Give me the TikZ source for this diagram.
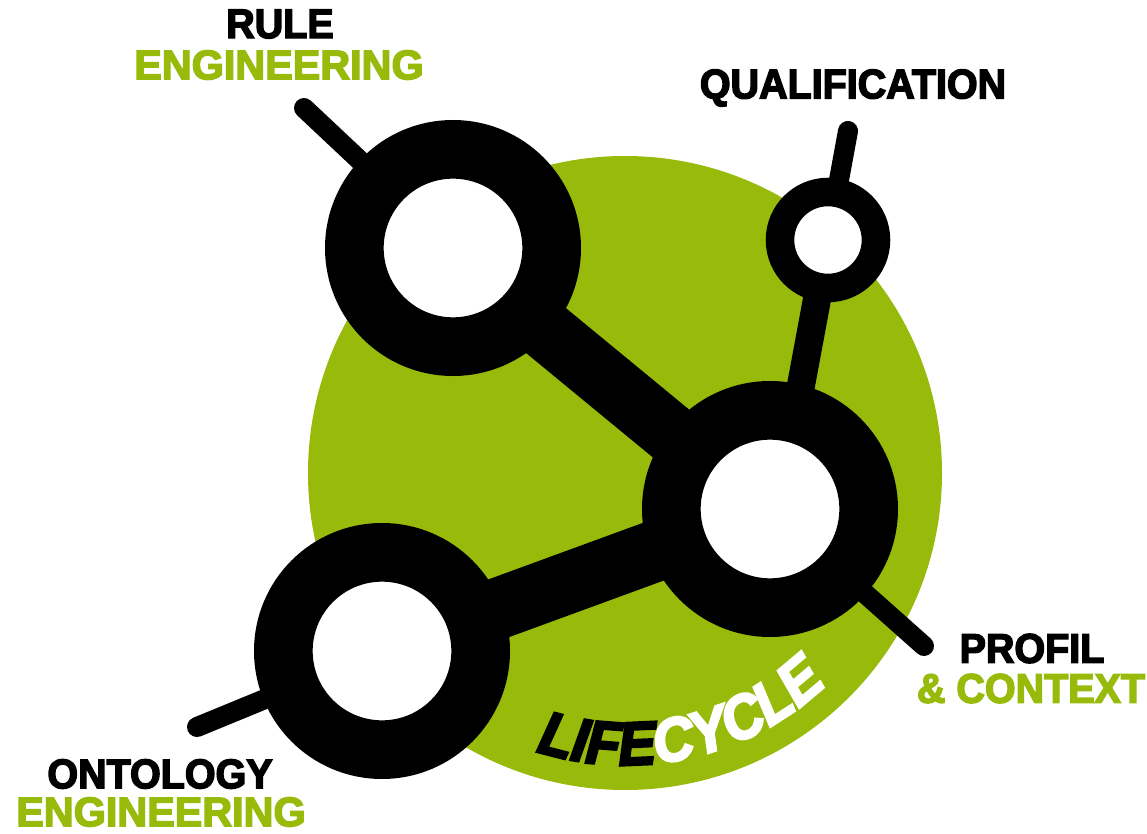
\documentclass[tikz,border=0pt]{standalone}
\usepackage{fontspec}
\usetikzlibrary{decorations.text,backgrounds}
\setmainfont{Liberation Sans}
\newfontfamily\heavy[FakeBold=3.5,FakeStretch=0.955]{Liberation Sans Bold}
\newfontfamily\heavywide[FakeBold=3.5,FakeStretch=1.0]{Liberation Sans Bold}
\newfontfamily\heavyit[FakeBold=4,FakeStretch=0.92]{Liberation Sans Bold Italic}
\newcommand{\lifefont}{\heavyit\fontsize{46}{46}\selectfont}
\definecolor{lime}{HTML}{97BA0B}
\tikzset{
 bigring/.style={circle,fill=white,draw=black,line width=44pt,minimum size=148pt,inner sep=0pt,outer sep=0pt},
 smallring/.style={circle,fill=white,draw=black,line width=21.4pt,minimum size=72pt,inner sep=0pt,outer sep=0pt},
 lab/.style={inner sep=0pt,font=\heavy\fontsize{31}{31}\selectfont},
 labwide/.style={inner sep=0pt,text=lime,font=\heavywide\fontsize{31}{31}\selectfont},
 stub/.style={line width=15pt,line cap=round,draw=black},
 bar/.style={line width=#1,line cap=butt,draw=black}
}
\begin{document}
\begin{tikzpicture}[x=0.75pt,y=-0.75pt]
\useasboundingbox (0,0) rectangle (1147,834);
\coordinate (rf) at (304,108);
\coordinate (qf) at (848,131);
\coordinate (pf) at (924,646);
\coordinate (of) at (197,727);
\node[bigring] (r) at (453,248) {};
\node[bigring] (m) at (770,509) {};
\node[bigring] (o) at (382,651) {};
\node[smallring] (q) at (828,240) {};
\begin{scope}[on background layer]
\fill[lime] (625,473) circle [radius=317*0.75pt];
\draw[stub] (r) -- (rf);
\draw[stub] (q) -- (qf);
\draw[stub] (m) -- (pf);
\draw[stub] (o) -- (of);
\draw[bar=45pt] ([shift={(0,6)}]r.center) -- ([shift={(0,6)}]m.center);
\draw[bar=46pt] (o) -- (m);
\draw[bar=21pt] (q) -- ([shift={(8,0)}]m.center);
\end{scope}
\node[lab] (t1) at (280,24) {RULE};
\node[labwide] (t2) at (279,65) {ENGINEERING};
\node[lab] (t3) at (853,88) {QUALIFICATION};
\node[lab] (t4) at (1032,648.5) {PROFIL};
\node[lab,text=lime] (t5) at (1031,688.5) {\& CONTEXT};
\node[lab] (t6) at (160,774) {ONTOLOGY};
\node[labwide] (t7) at (161,812) {ENGINEERING};
\path[decorate,decoration={text along path,text align=center,
  text={|\lifefont|LIFE|\lifefont\color{white}|CYCLE}}]
  (625,473) ++(108:292) arc[start angle=108,end angle=46,radius=292];
\end{tikzpicture}
\end{document}
